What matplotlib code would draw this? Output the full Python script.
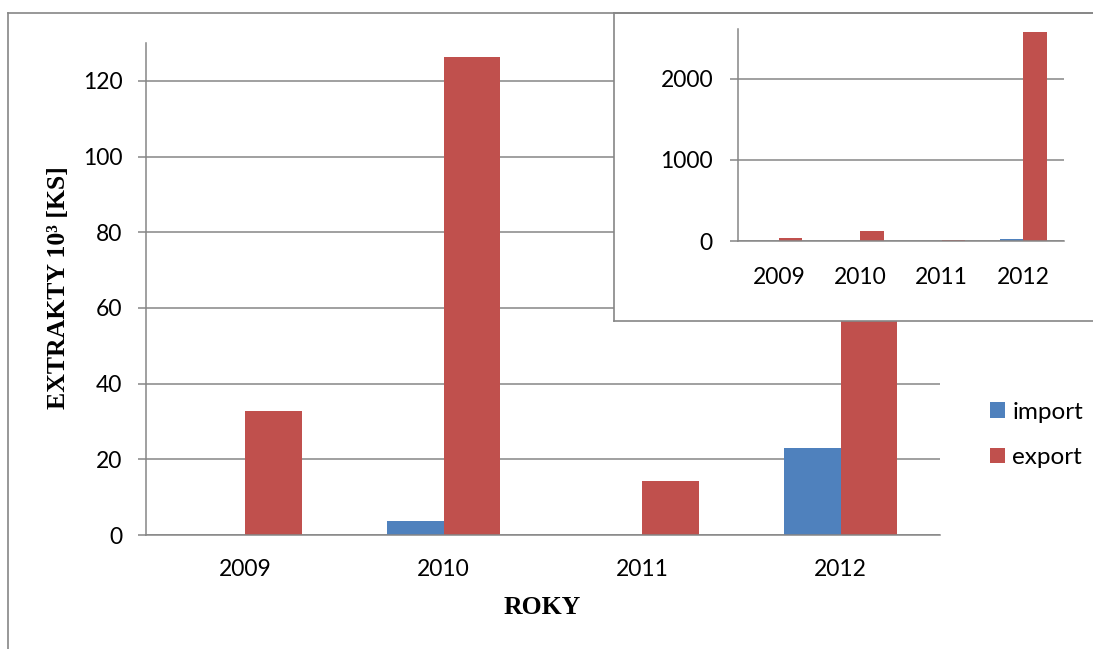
import matplotlib
matplotlib.use("Agg")
import matplotlib.pyplot as plt
from matplotlib.lines import Line2D
from matplotlib.patches import Patch
import numpy as np

years = ["2009", "2010", "2011", "2012"]
import_vals = [0, 3.6, 0, 23.0]
export_vals = [32.7, 126.3, 14.4, 2575]
main_yticks = [0, 20, 40, 60, 80, 100, 120]
inset_yticks = [0, 1000, 2000]

BLUE = "#4F81BD"
RED = "#C0504D"
GRID = "#868686"
W, H = 1093, 649

plt.rcParams['font.family'] = ['Lato', 'DejaVu Sans']

fig = plt.figure(figsize=(W / 100, H / 100), dpi=100)

def fx(px):
    return px / W

def fy(py):
    return 1 - py / H

# outer frame lines
fig.add_artist(Line2D([fx(8), fx(W + 5)], [fy(13), fy(13)], color=GRID, lw=1.2, transform=fig.transFigure))
fig.add_artist(Line2D([fx(8), fx(8)], [fy(13), fy(H + 5)], color=GRID, lw=1.2, transform=fig.transFigure))

x = np.arange(len(years))
bw = 0.2857

def style_axes(ax, ylim, yticks, pad_y, pad_x):
    ax.set_ylim(*ylim)
    ax.set_xlim(-0.5, len(years) - 0.5)
    ax.set_yticks(yticks)
    ax.set_xticks(x)
    ax.set_xticklabels(years)
    ax.grid(axis='y', color=GRID, lw=1.1)
    ax.set_axisbelow(True)
    for s in ['top', 'right']:
        ax.spines[s].set_visible(False)
    for s in ['left', 'bottom']:
        ax.spines[s].set_color(GRID)
        ax.spines[s].set_linewidth(1.1)
    ax.tick_params(axis='y', direction='out', length=6, width=1.1, color=GRID, pad=pad_y, labelsize=16.5)
    ax.tick_params(axis='x', length=0, pad=pad_x, labelsize=16.5)

# main axes
ax = fig.add_axes([fx(146), fy(535), fx(940) - fx(146), fy(43) - fy(535)])
ax.bar(x - bw / 2, import_vals, bw, color=BLUE, label='import')
ax.bar(x + bw / 2, export_vals, bw, color=RED, label='export')
style_axes(ax, (0, 130), main_yticks, 11, 17)

fig.text(fx(542), fy(608), "ROKY", ha='center', va='center', fontsize=18.5,
         fontweight='bold', family=['Liberation Serif', 'DejaVu Serif'])
fig.text(fx(59), fy(288), "EXTRAKTY 10³ [KS]", ha='center', va='center', rotation=90,
         fontsize=18.5, fontweight='bold', family=['Liberation Serif', 'DejaVu Serif'])

handles = [Patch(facecolor=BLUE), Patch(facecolor=RED)]
fig.legend(handles, ['import', 'export'], loc='center left',
           bbox_to_anchor=(fx(990), fy(435)), frameon=False, fontsize=17.5,
           handlelength=0.62, handleheight=0.62, handletextpad=0.3,
           labelspacing=1.0, borderpad=0, borderaxespad=0)

# inset panel background
bg = fig.add_axes([fx(614), fy(321), fx(W + 10) - fx(614), fy(13) - fy(321)])
bg.set_facecolor('white')
bg.set_xticks([])
bg.set_yticks([])
for s in ['left', 'bottom', 'top']:
    bg.spines[s].set_color(GRID)
    bg.spines[s].set_linewidth(1.2)
bg.spines['right'].set_visible(False)

ins = fig.add_axes([fx(738), fy(241), fx(1064) - fx(738), fy(29) - fy(241)])
ins.patch.set_alpha(0)
ins.bar(x - bw / 2, import_vals, bw, color=BLUE)
ins.bar(x + bw / 2, export_vals, bw, color=RED)
style_axes(ins, (0, 2610), inset_yticks, 12, 19)

fig.savefig("out.png", dpi=100)
